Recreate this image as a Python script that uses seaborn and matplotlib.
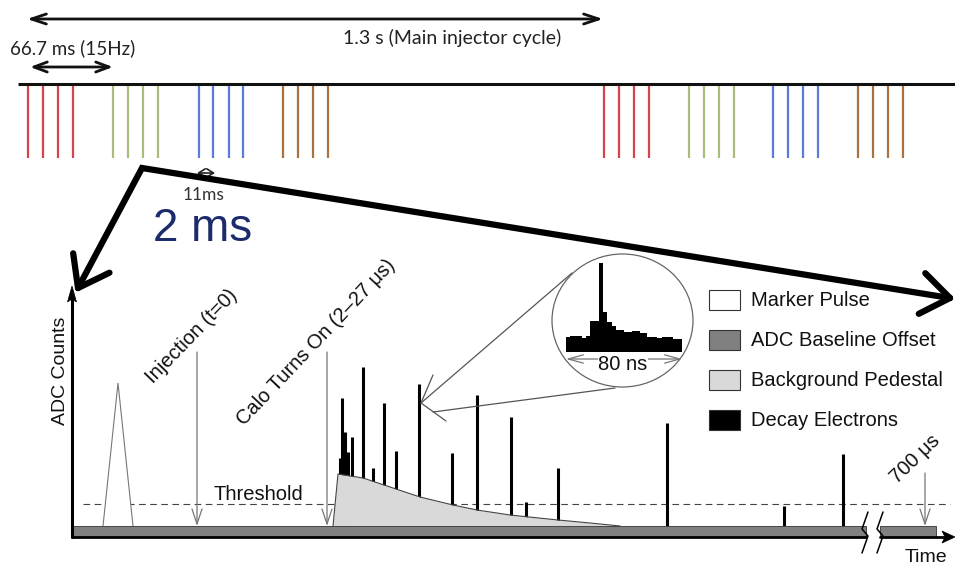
import numpy as np
import matplotlib
matplotlib.use("Agg")
import matplotlib.pyplot as plt
import seaborn as sns
from matplotlib.patches import Rectangle, Polygon, Ellipse

sns.set_theme(style="white")
plt.rcParams['font.family'] = ['Liberation Sans', 'DejaVu Sans']

# ---------------- data ----------------
# top timeline: bunch positions (px along the time line) and group colours
pulse_groups = [
    [28, 43, 58, 73], [113, 128, 143, 158], [199, 213, 229, 243], [283, 298, 313, 328],
    [604, 619, 634, 649], [689, 704, 719, 734], [773, 788, 803, 818], [858, 873, 888, 903],
]
pulse_colors = ['#d8434e', '#a9bd7a', '#5a7bd8', '#a8713f'] * 2

# bottom panel: decay electron spikes (time, peak level)
decay_t = [340, 342, 345, 348, 352, 363, 373, 384, 396, 419, 452, 477, 511, 526, 558, 667, 784, 843]
decay_top = [458, 398, 432, 452, 437, 367, 468, 403, 451, 384, 453, 395, 417, 502, 468, 423, 506, 454]

# background pedestal profile
ped_t = [333, 338, 363, 390, 420, 453, 477, 510, 558, 590, 620]
ped_top = [526, 474, 478, 487, 497, 505, 510, 515, 520, 523, 526]

# inset histogram (80 ns pulse shape)
hist_edges = [566, 570, 578, 582, 586, 590, 599, 603, 607, 612, 616, 624, 632, 640, 647, 657, 662, 673, 682]
hist_top = [337, 336, 336, 338, 336, 321, 263, 312, 322, 326, 330, 332, 331, 333, 337, 338, 337, 339]

legend_labels = ['Marker Pulse', 'ADC Baseline Offset', 'Background Pedestal', 'Decay Electrons']
legend_colors = ['white', '#808080', '#d9d9d9', 'black']

# ---------------- figure ----------------
fig = plt.figure(figsize=(9.55, 5.66), dpi=100)
ax = fig.add_axes([0, 0, 1, 1])
ax.set_xlim(0, 955)
ax.set_ylim(566, 0)
ax.axis('off')

top_font = ['Lato', 'DejaVu Sans']
dark = '#222222'

# 1.3 s arrow
ax.annotate('', xy=(27, 19), xytext=(603, 19),
            arrowprops=dict(arrowstyle='<->,head_length=0.9,head_width=0.3', color='#111', lw=2.0,
                            shrinkA=0, shrinkB=0))
ax.text(452, 38, '1.3 s (Main injector cycle)', family=top_font, fontsize=14, color=dark,
        ha='center', va='center')
# 66.7 ms arrow
ax.annotate('', xy=(30, 67), xytext=(113, 67),
            arrowprops=dict(arrowstyle='<->,head_length=0.8,head_width=0.3', color='#111', lw=2.0,
                            shrinkA=0, shrinkB=0))
ax.text(73, 48, '66.7 ms (15Hz)', family=top_font, fontsize=13.5, color=dark, ha='center', va='center')

# main time line
ax.plot([18, 955], [84, 84], color='#111', lw=2.2, solid_capstyle='butt')
for grp, col in zip(pulse_groups, pulse_colors):
    ax.vlines(grp, 86, 158, color=col, lw=1.6)

# 11 ms
ax.annotate('', xy=(197, 173), xytext=(215, 173),
            arrowprops=dict(arrowstyle='<->,head_length=0.4,head_width=0.25', color='#222', lw=1.2,
                            shrinkA=0, shrinkB=0))
ax.text(204, 195, '11ms', family=top_font, fontsize=12.5, color='#333', ha='center', va='center')

# zoom arrows (thick black)
corner = np.array([142.0, 168.0])
tips = [np.array([78.0, 288.0]), np.array([950.0, 298.0])]
ax.plot([tips[0][0], corner[0], tips[1][0]], [tips[0][1], corner[1], tips[1][1]],
        color='black', lw=4.5, solid_joinstyle='miter', solid_capstyle='round', zorder=6)
for tip in tips:
    d = corner - tip
    d = d / np.hypot(*d)
    for ang in (np.radians(36), -np.radians(36)):
        r = np.array([d[0] * np.cos(ang) - d[1] * np.sin(ang), d[0] * np.sin(ang) + d[1] * np.cos(ang)])
        arm = tip + r * 35
        ax.plot([tip[0], arm[0]], [tip[1], arm[1]], color='black', lw=4.5,
                solid_capstyle='round', zorder=6)

ax.text(203, 229, '2 ms', fontsize=33, color='#1b2b6b', ha='center', va='center')

# ---------------- bottom panel ----------------
base_top, base_bot = 526, 536.5
# threshold
ax.plot([83, 950], [504, 504], color='#444', lw=0.8, dashes=(6, 4), zorder=1)
ax.text(258, 494, 'Threshold', fontsize=14.5, color='#111', ha='center', va='center')

# decay spikes
ax.vlines(decay_t, base_top, decay_top, color='black', lw=2.2, zorder=2)
# pedestal
ax.fill_between(ped_t, ped_top, base_top, color='#d9d9d9', lw=0, zorder=3)
ax.plot(ped_t, ped_top, color='#444', lw=0.8, zorder=3)

# marker pulse
ax.add_patch(Polygon([(103, base_top), (118, 383), (133, base_top)], closed=False,
                     facecolor='white', edgecolor='#777', lw=0.8, zorder=3))

# baseline offset bar (two segments with axis break)
for x0, x1 in [(72, 866), (880, 936)]:
    ax.add_patch(Rectangle((x0, base_top), x1 - x0, base_bot - base_top, facecolor='#808080',
                           edgecolor='#333', lw=0.6, zorder=4))
ax.plot([72, 866], [537, 537], color='black', lw=2.0, zorder=5)
ax.plot([880, 944], [537, 537], color='black', lw=2.0, zorder=5)
ax.add_patch(Polygon([(955, 537), (942, 531), (945, 537), (942, 543)], closed=True,
                     facecolor='black', edgecolor='black', lw=0.5, zorder=5))
for bx in (862, 877):
    ax.plot([bx + 6, bx, bx + 6, bx], [512, 529, 536, 553], color='black', lw=1.1, zorder=6)

# y axis
ax.plot([72, 72], [537, 298], color='black', lw=2.2, zorder=5)
ax.add_patch(Polygon([(72, 286), (67.5, 302), (72, 299), (76.5, 302)], closed=True,
                     facecolor='black', edgecolor='black', lw=0.5, zorder=5))
ax.text(60, 371, 'ADC Counts', fontsize=14, rotation=90, ha='center', va='center', color='#111')
ax.text(905, 558, 'Time', fontsize=14, ha='left', va='center', color='#111')

# injection / calo markers
arrow_kw = dict(arrowstyle='->,head_length=0.9,head_width=0.3', color='#777', lw=0.9,
                shrinkA=0, shrinkB=0)
for x in (197, 327):
    ax.annotate('', xy=(x, base_top), xytext=(x, 352), arrowprops=arrow_kw, zorder=4)
ax.annotate('', xy=(925, base_top), xytext=(925, 473), arrowprops=arrow_kw, zorder=4)
ax.text(192, 336, 'Injection (t=0)', fontsize=14.5, rotation=46, rotation_mode='anchor',
        ha='center', va='center', color='#111')
ax.text(316, 342, 'Calo Turns On (2–27 μs)', fontsize=14.5, rotation=46.5, rotation_mode='anchor',
        ha='center', va='center', color='#111')
ax.text(915, 459, '700 μs', fontsize=14.5, rotation=44, rotation_mode='anchor',
        ha='center', va='center', color='#111')

# inset
ax.plot([572, 421], [273, 403], color='#555', lw=0.9, zorder=4)
ax.plot([615, 433], [388, 412], color='#555', lw=0.9, zorder=4)
ax.plot([433, 421, 446], [375, 403, 421], color='#555', lw=0.9, zorder=4)
ax.add_patch(Ellipse((622.5, 320.5), 141, 133, facecolor='white', edgecolor='#666', lw=0.9, zorder=5))
ax.stairs(hist_top, hist_edges, baseline=352, fill=True, color='black', zorder=6)
ax.annotate('', xy=(566, 359), xytext=(682, 359),
            arrowprops=dict(arrowstyle='<->,head_length=0.9,head_width=0.25', color='#777', lw=0.9,
                            shrinkA=0, shrinkB=0), zorder=6)
ax.text(623, 364, '80 ns', fontsize=14.5, ha='center', va='center', color='#111', zorder=7,
        bbox=dict(facecolor='white', edgecolor='none', pad=0.5))

# legend
for i, (lab, col) in enumerate(zip(legend_labels, legend_colors)):
    yc = 300 + i * 40
    ax.add_patch(Rectangle((709, yc - 10), 31, 20, facecolor=col, edgecolor='#333', lw=0.8, zorder=5))
    ax.text(751, yc, lab, fontsize=14.5, ha='left', va='center', color='#111')

fig.savefig('out.png', dpi=100)
